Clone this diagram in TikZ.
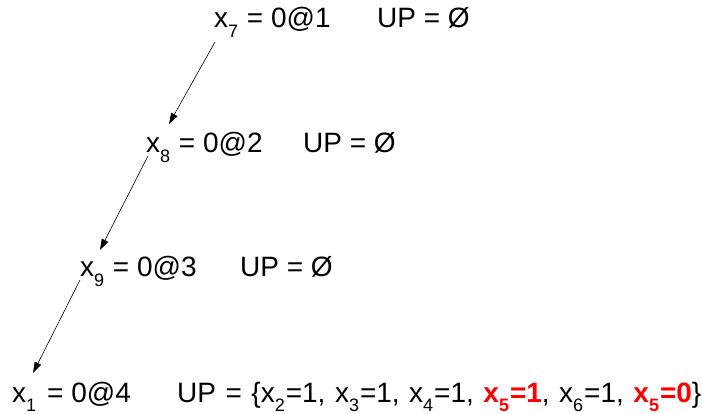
\documentclass[tikz,border=0pt]{standalone}
\usepackage{fontspec}
\setmainfont{Liberation Sans}
\usetikzlibrary{arrows.meta}
\newcommand\sbs[1]{\raisebox{-0.62ex}{\fontsize{18}{18}\selectfont #1}\kern1pt\relax}
\definecolor{redx}{RGB}{255,0,0}
\begin{document}
\begin{tikzpicture}[x=1pt,y=-1pt,
  lbl/.style={anchor=base west,inner sep=0pt,font=\fontsize{28}{32}\selectfont},
  arr/.style={draw=black,line width=0.6pt,-{Triangle[length=11pt,width=7pt]}}]
\useasboundingbox (0,0) rectangle (702,414);
\node[lbl] (r1) at (214,28) {x\sbs{7} = 0@1};
\node[lbl] (u1) at (377,28) {UP = Ø};
\node[lbl] (r2) at (146,153) {x\sbs{8} = 0@2};
\node[lbl] (u2) at (303,153) {UP = Ø};
\node[lbl] (r3) at (80,277) {x\sbs{9} = 0@3};
\node[lbl] (u3) at (240,277) {UP = Ø};
\node[lbl] (r4) at (12,402) {x\sbs{1}\hspace{10pt}= 0@4};
\node[lbl] (u4) at (177,402) {\spaceskip=9.5pt UP = \{x\sbs{2}=1, x\sbs{3}=1, x\sbs{4}=1, {\color{redx}\bfseries x\sbs{5}=1}, x\sbs{6}=1, {\color{redx}\bfseries x\sbs{5}=0}\}};
\coordinate (s1) at (215,42);
\coordinate (e1) at (169,124);
\coordinate (s2) at (148,156);
\coordinate (e2) at (100,250);
\coordinate (s3) at (80,280);
\coordinate (e3) at (33,373);
\draw[arr] (s1) -- (e1);
\draw[arr] (s2) -- (e2);
\draw[arr] (s3) -- (e3);
\end{tikzpicture}
\end{document}
